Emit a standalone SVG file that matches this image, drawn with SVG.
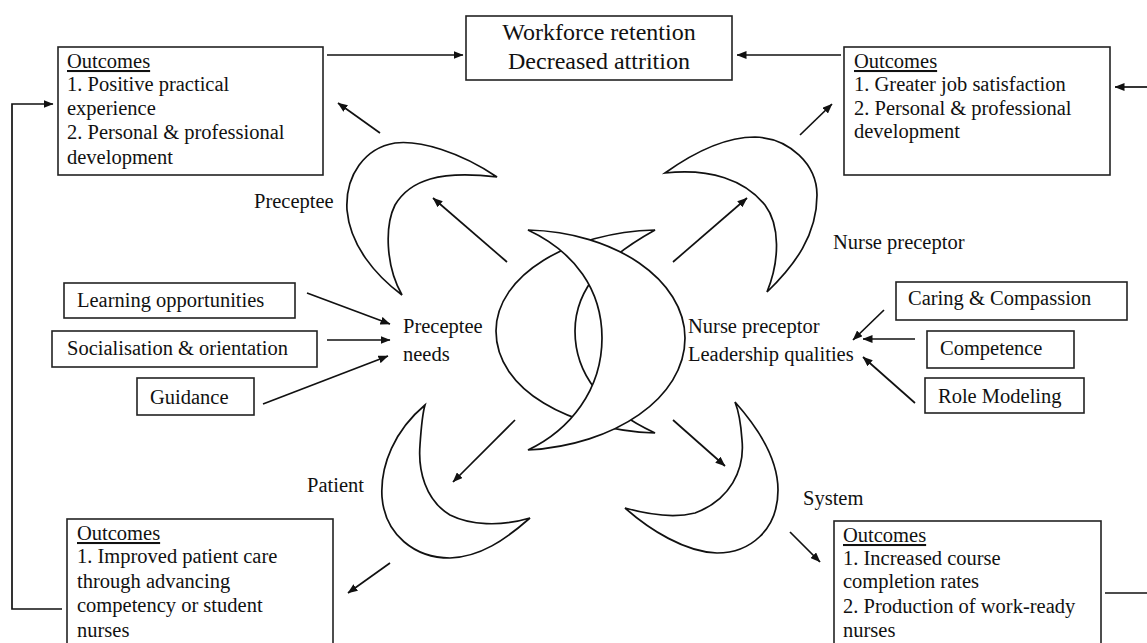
<svg xmlns="http://www.w3.org/2000/svg" width="1147" height="643" viewBox="0 0 1147 643">
<defs>
<marker id="ah" viewBox="0 0 10 8" refX="9.5" refY="4" markerWidth="10" markerHeight="8" markerUnits="userSpaceOnUse" orient="auto">
<path d="M0,0 L10,4 L0,8 Z" fill="#111"/>
</marker>
<style>
text{font-family:"Liberation Serif","Times New Roman",serif;font-size:20.5px;fill:#111}
.t{font-size:24px}
.u{text-decoration:underline}
.box{fill:#fff;stroke:#222;stroke-width:1.6}
.c{fill:none;stroke:#111;stroke-width:1.7}
.a{fill:none;stroke:#111;stroke-width:1.7;marker-end:url(#ah)}
.cr{fill:#fff;stroke:#111;stroke-width:1.7;stroke-linejoin:miter}
</style>
</defs>
<rect width="1147" height="643" fill="#fff"/>

<g id="connectors">
<path class="a" d="M327,55 L463,55"/>
<path class="a" d="M841,55 L737,55"/>
<path class="a" d="M1147,87 L1115,87"/>
<path class="c" d="M1105,593 L1147,593"/>
<path class="a" d="M62,609 L12,609 L12,104 L53,104"/>
<path class="a" d="M380,133 L338,103"/>
<path class="a" d="M507,262 L433,198"/>
<path class="a" d="M800,135 L832,104"/>
<path class="a" d="M673,262 L747,198"/>
<path class="a" d="M515,420 L453,482"/>
<path class="a" d="M390,563 L348,593"/>
<path class="a" d="M673,420 L725,466"/>
<path class="a" d="M790,532 L820,562"/>
<path class="a" d="M307,293 L390,324"/>
<path class="a" d="M327,340 L390,340"/>
<path class="a" d="M263,404 L388,356"/>
<path class="a" d="M884,310 L853,340"/>
<path class="a" d="M915,339 L863,339"/>
<path class="a" d="M915,403 L863,357"/>
</g>

<g id="workforce">
<rect class="box" x="466" y="16" width="266" height="64"/>
<text class="t" x="599" y="40" text-anchor="middle">Workforce retention</text>
<text class="t" x="599" y="69" text-anchor="middle">Decreased attrition</text>
</g>

<g id="outcomes-preceptee">
<rect class="box" x="58" y="47" width="265" height="128"/>
<text x="67" y="68" class="u">Outcomes</text>
<text x="67" y="91">1. Positive practical</text>
<text x="67" y="115">experience</text>
<text x="67" y="139">2. Personal &amp; professional</text>
<text x="67" y="164">development</text>
</g>

<g id="outcomes-preceptor">
<rect class="box" x="844" y="47" width="266" height="128"/>
<text x="854" y="68" class="u">Outcomes</text>
<text x="854" y="91">1. Greater job satisfaction</text>
<text x="854" y="115">2. Personal &amp; professional</text>
<text x="854" y="138">development</text>
</g>

<g id="outcomes-patient">
<rect class="box" x="67" y="519" width="266" height="140"/>
<text x="77" y="540" class="u">Outcomes</text>
<text x="77" y="563">1. Improved patient care</text>
<text x="77" y="588">through advancing</text>
<text x="77" y="612">competency or student</text>
<text x="77" y="637">nurses</text>
</g>

<g id="outcomes-system">
<rect class="box" x="834" y="521" width="267" height="140"/>
<text x="843" y="542" class="u">Outcomes</text>
<text x="843" y="565">1. Increased course</text>
<text x="843" y="588">completion rates</text>
<text x="843" y="613">2. Production of work-ready</text>
<text x="843" y="637">nurses</text>
</g>

<g id="learning">
<rect class="box" x="64" y="283" width="231" height="35"/>
<text x="77" y="307">Learning opportunities</text>
</g>
<g id="socialisation">
<rect class="box" x="52" y="331" width="265" height="36"/>
<text x="67" y="355">Socialisation &amp; orientation</text>
</g>
<g id="guidance">
<rect class="box" x="137" y="378" width="117" height="37"/>
<text x="150" y="404">Guidance</text>
</g>

<g id="caring">
<rect class="box" x="896" y="282" width="231" height="38"/>
<text x="908" y="305">Caring &amp; Compassion</text>
</g>
<g id="competence">
<rect class="box" x="927" y="331" width="147" height="37"/>
<text x="940" y="355">Competence</text>
</g>
<g id="role-modeling">
<rect class="box" x="925" y="378" width="159" height="35"/>
<text x="938" y="403">Role Modeling</text>
</g>

<g id="preceptee-needs">
<text x="403" y="333">Preceptee</text>
<text x="403" y="361">needs</text>
</g>
<g id="leadership">
<text x="688" y="333">Nurse preceptor</text>
<text x="688" y="361">Leadership qualities</text>
</g>

<g id="center-crescents">
<path class="cr" d="M655,230 C570,232 496,275 496,331 C496,390 570,430 655,433 C610,412 575,380 575,331 C575,285 610,255 655,230 Z"/>
<path class="cr" d="M528,230 C615,232 685,280 685,338 C685,398 615,445 528,450 C570,430 602,390 602,338 C602,290 575,252 528,230 Z"/>
</g>

<g id="preceptee">
<path class="cr" d="M497,177 C460,152 420,140 395,143 C365,148 345,175 347,210 C350,245 375,275 402,295 C385,265 385,225 395,205 C410,180 440,170 497,177 Z"/>
<text x="254" y="208">Preceptee</text>
</g>

<g id="nurse-preceptor">
<path class="cr" d="M665,173 C700,148 730,137 755,137 C790,138 817,165 817,195 C817,235 795,265 767,292 C780,260 780,225 765,205 C745,180 710,168 665,173 Z"/>
<text x="833" y="249">Nurse preceptor</text>
</g>

<g id="patient">
<path class="cr" d="M425,405 C395,430 380,465 382,497 C385,535 415,558 450,558 C480,557 505,540 530,518 C500,527 470,525 450,515 C425,500 418,470 420,445 C421,430 422,415 425,405 Z"/>
<text x="307" y="492">Patient</text>
</g>

<g id="system">
<path class="cr" d="M735,402 C760,430 778,460 778,490 C778,530 750,553 717,553 C685,552 650,530 625,508 C650,515 675,518 695,513 C730,500 745,470 742,440 C741,425 739,412 735,402 Z"/>
<text x="803" y="505">System</text>
</g>
</svg>
